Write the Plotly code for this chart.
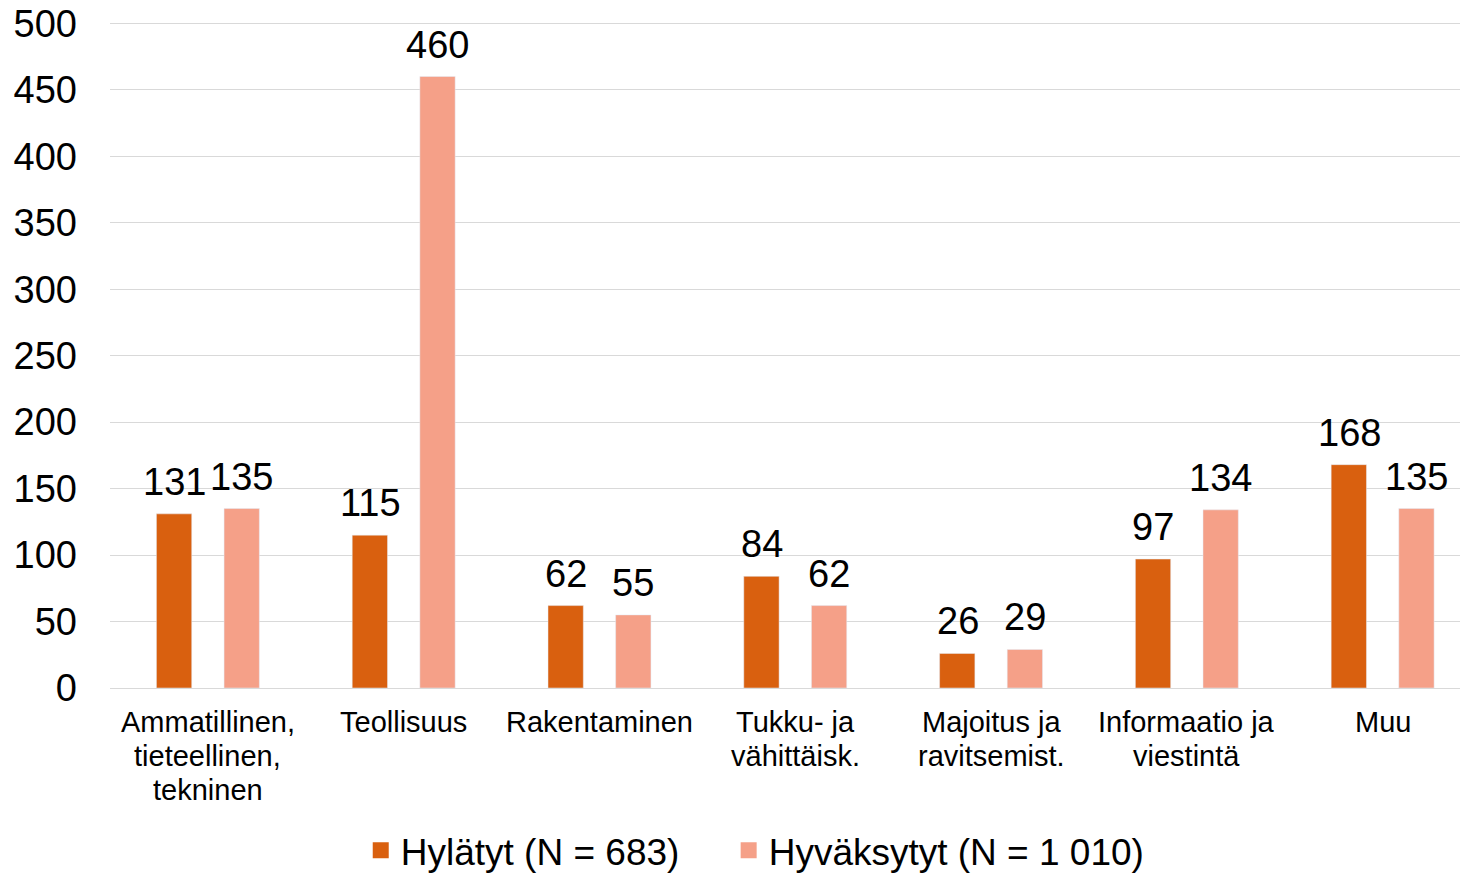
import plotly.graph_objects as go

categories = ["Ammatillinen,<br>tieteellinen,<br>tekninen", "Teollisuus", "Rakentaminen",
              "Tukku- ja<br>vähittäisk.", "Majoitus ja<br>ravitsemist.", "Informaatio ja<br>viestintä", "Muu"]
hylatyt = [131, 115, 62, 84, 26, 97, 168]
hyvaksytyt = [135, 460, 55, 62, 29, 134, 135]
series_names = ["Hylätyt (N = 683)", "Hyväksytyt (N = 1 010)"]
colors = ["#D9600F", "#F5A088"]
yticks = [0, 50, 100, 150, 200, 250, 300, 350, 400, 450, 500]

font = "Liberation Sans, Arial, sans-serif"
fig = go.Figure()
for vals, name, col in zip([hylatyt, hyvaksytyt], series_names, colors):
    fig.add_trace(go.Bar(x=categories, y=vals, name=name, marker_color=col,
                         cliponaxis=False, showlegend=False))

legends = ["legend", "legend2"]
for name, col, lg in zip(series_names, colors, legends):
    fig.add_trace(go.Scatter(x=[None], y=[None], mode="markers", name=name, legend=lg,
                             marker=dict(symbol="square", size=18, color=col)))

# value labels above bars
shifts = [-33.5, 33.5]
for vals, dx in zip([hylatyt, hyvaksytyt], shifts):
    for c, v in zip(categories, vals):
        fig.add_annotation(x=c, y=v, text=str(v), showarrow=False, xshift=dx, yshift=9,
                           yanchor="bottom", font=dict(size=38, color="black"))

# category labels (one annotation per line for tighter line spacing)
for c in categories:
    for i, line in enumerate(c.split("<br>")):
        fig.add_annotation(x=c, y=0, yref="paper", text=line, showarrow=False,
                           yanchor="middle", yshift=-34 - 34 * i,
                           font=dict(size=29, color="black"))

legend_style = dict(orientation="h", xref="container", yref="container", xanchor="left",
                    y=0.027, yanchor="middle", font=dict(size=37), itemsizing="trace",
                    bgcolor="rgba(0,0,0,0)")
fig.update_layout(
    width=1460, height=866, barmode="group", bargap=0.309, bargroupgap=0.478,
    margin=dict(l=102, r=0, t=14, b=186, autoexpand=False),
    plot_bgcolor="white", paper_bgcolor="white",
    font=dict(family=font, color="black"),
    legend=dict(x=0.2416, **legend_style),
    legend2=dict(x=0.4936, **legend_style),
)
fig.update_yaxes(range=[0, 501], tickvals=yticks, gridcolor="#d9d9d9", gridwidth=1.3,
                 tickfont=dict(size=38), zeroline=False, ticks="", ticklabelstandoff=32,
                 ticklabeloverflow="allow")
fig.update_xaxes(range=[-0.5, 6.436], showticklabels=False, showline=True,
                 linecolor="#d9d9d9", linewidth=1.3, ticks="")
fig.write_html("out.html")
